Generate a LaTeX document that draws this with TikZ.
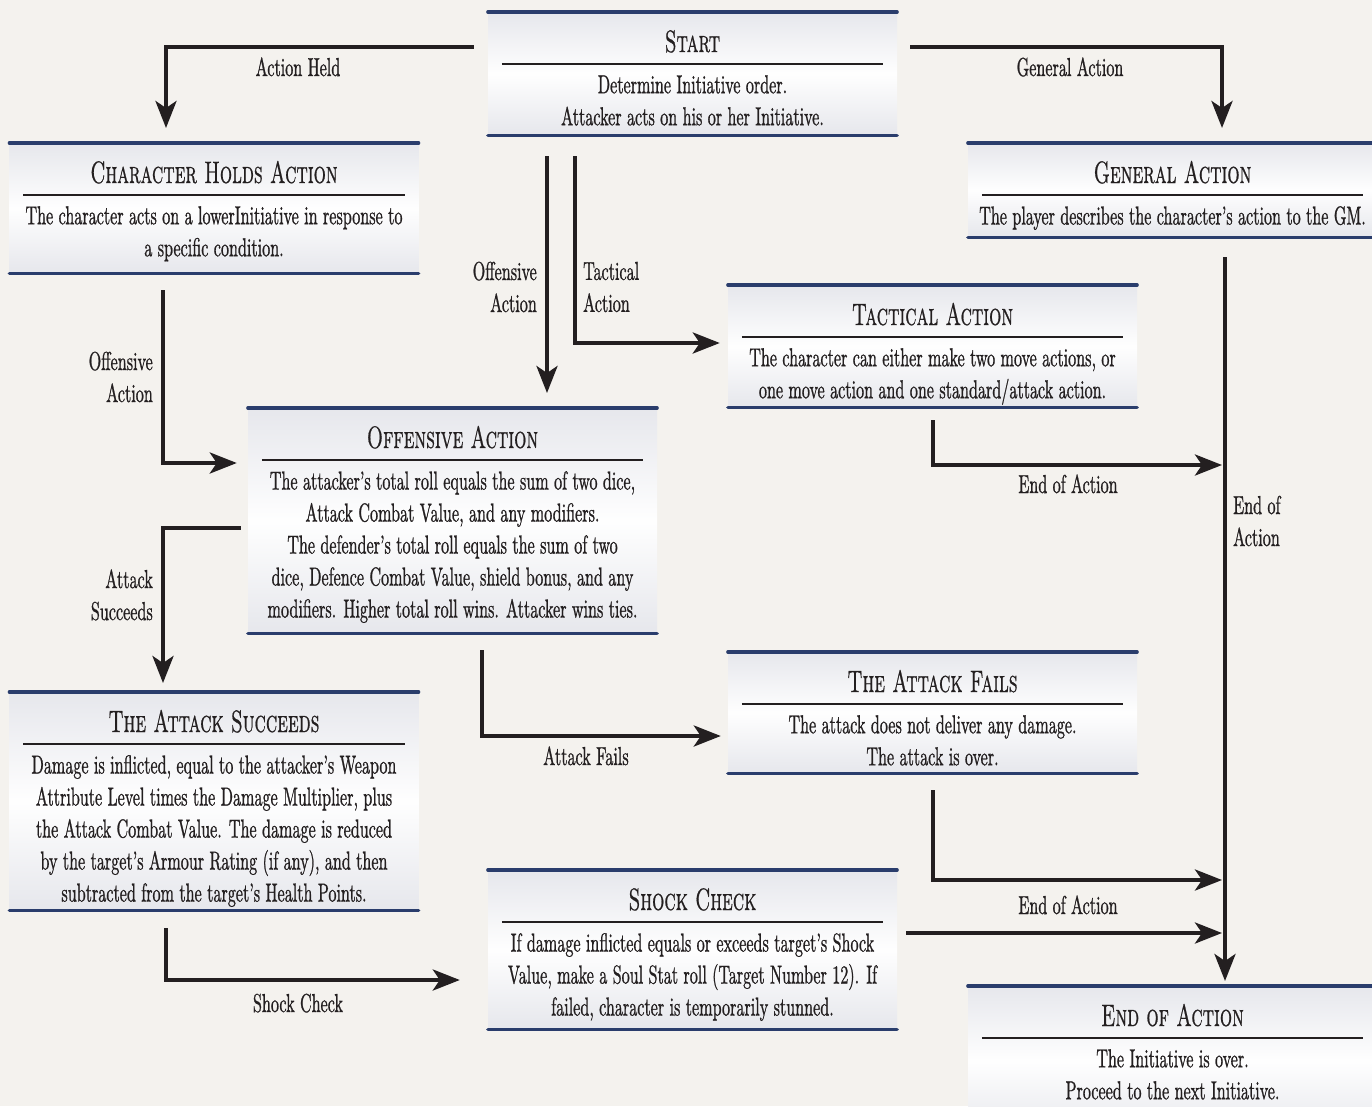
\documentclass[tikz,border=0pt]{standalone}
\usepackage{fontspec}
\setmainfont{lmroman10-regular.otf}[FakeStretch=0.62, FakeBold=0.8]
\newfontfamily\capsfont{lmromancaps10-regular.otf}[FakeStretch=0.62, FakeBold=0.6]
\usetikzlibrary{arrows.meta}

\definecolor{paper}{HTML}{F4F2EE}
\definecolor{navy}{HTML}{2A3D6C}
\definecolor{ink}{HTML}{231F20}
\definecolor{panelgray}{HTML}{E6E7EC}

\begin{document}
\begin{tikzpicture}[
  x=1pt, y=-1pt,
  every node/.style={font=\fontsize{26}{32}\selectfont, text=ink},
  navy line/.style={draw=navy, line width=3.2pt, line cap=round},
  panel/.style={anchor=north, inner sep=0, minimum width=409,
    top color=panelgray, bottom color=panelgray, middle color=white!97!panelgray,
    append after command={
      (\tikzlastnode.north west) edge[navy line] (\tikzlastnode.north east)
      (\tikzlastnode.south west) edge[navy line] (\tikzlastnode.south east)}},
  heading/.style={anchor=base, inner sep=0, font=\capsfont\fontsize{31}{31}\selectfont},
  rule/.style={draw=ink, line width=2.5pt},
  body/.style={align=center, anchor=north, inner sep=0},
  flow/.style={draw=ink, line width=4pt, -{Stealth[length=27pt, width=21pt, inset=7pt]}},
  tag/.style={align=center, inner sep=0}
]
\useasboundingbox (0,0) rectangle (1372,1106);
\fill[paper] (0,0) rectangle (1372,1106);

% Kaders
\node[panel, minimum height=123] (start) at (692.5,12) {};
\node[heading] (start-title) at ([shift={(0,40)}]start.north) {Start};
\draw[rule] ([shift={(14,52)}]start.north west) -- ([shift={(-14,52)}]start.north east);
\node[body] (start-text) at ([shift={(0,63)}]start.north)
  {Determine Initiative order.\\Attacker acts on his or her Initiative.};

\node[panel, minimum height=130] (hold) at (214,143) {};
\node[heading] (hold-title) at ([shift={(0,40)}]hold.north) {Character Holds Action};
\draw[rule] ([shift={(14,52)}]hold.north west) -- ([shift={(-14,52)}]hold.north east);
\node[body] (hold-text) at ([shift={(0,63)}]hold.north)
  {The character acts on a lowerInitiative in response to\\a specific condition.};

\node[panel, minimum height=94] (general) at (1172.5,143) {};
\node[heading] (general-title) at ([shift={(0,40)}]general.north) {General Action};
\draw[rule] ([shift={(14,52)}]general.north west) -- ([shift={(-14,52)}]general.north east);
\node[body] (general-text) at ([shift={(0,63)}]general.north)
  {The player describes the character’s action to the GM.};

\node[panel, minimum height=122] (tactical) at (932.5,285) {};
\node[heading] (tactical-title) at ([shift={(0,40)}]tactical.north) {Tactical Action};
\draw[rule] ([shift={(14,52)}]tactical.north west) -- ([shift={(-14,52)}]tactical.north east);
\node[body] (tactical-text) at ([shift={(0,63)}]tactical.north)
  {The character can either make two move actions, or\\one move action and one standard/attack action.};

\node[panel, minimum height=225] (offense) at (452.5,408) {};
\node[heading] (offense-title) at ([shift={(0,40)}]offense.north) {Offensive Action};
\draw[rule] ([shift={(14,52)}]offense.north west) -- ([shift={(-14,52)}]offense.north east);
\node[body] (offense-text) at ([shift={(0,63)}]offense.north)
  {The attacker’s total roll equals the sum of two dice,\\Attack Combat Value, and any modifiers.\\The defender’s total roll equals the sum of two\\dice, Defence Combat Value, shield bonus, and any\\modifiers. Higher total roll wins. Attacker wins ties.};

\node[panel, minimum height=218] (succeed) at (214,692) {};
\node[heading] (succeed-title) at ([shift={(0,40)}]succeed.north) {The Attack Succeeds};
\draw[rule] ([shift={(14,52)}]succeed.north west) -- ([shift={(-14,52)}]succeed.north east);
\node[body] (succeed-text) at ([shift={(0,63)}]succeed.north)
  {Damage is inflicted, equal to the attacker’s Weapon\\Attribute Level times the Damage Multiplier, plus\\the Attack Combat Value. The damage is reduced\\by the target’s Armour Rating (if any), and then\\subtracted from the target’s Health Points.};

\node[panel, minimum height=121] (fails) at (932.5,652) {};
\node[heading] (fails-title) at ([shift={(0,40)}]fails.north) {The Attack Fails};
\draw[rule] ([shift={(14,52)}]fails.north west) -- ([shift={(-14,52)}]fails.north east);
\node[body] (fails-text) at ([shift={(0,63)}]fails.north)
  {The attack does not deliver any damage.\\The attack is over.};

\node[panel, minimum height=159] (shock) at (692.5,870) {};
\node[heading] (shock-title) at ([shift={(0,40)}]shock.north) {Shock Check};
\draw[rule] ([shift={(14,52)}]shock.north west) -- ([shift={(-14,52)}]shock.north east);
\node[body] (shock-text) at ([shift={(0,63)}]shock.north)
  {If damage inflicted equals or exceeds target’s Shock\\Value, make a Soul Stat roll (Target Number 12). If\\failed, character is temporarily stunned.};

\node[panel, minimum height=150] (endact) at (1172.5,986) {};
\node[heading] (endact-title) at ([shift={(0,40)}]endact.north) {End of Action};
\draw[rule] ([shift={(14,52)}]endact.north west) -- ([shift={(-14,52)}]endact.north east);
\node[body] (endact-text) at ([shift={(0,63)}]endact.north)
  {The Initiative is over.\\Proceed to the next Initiative.};

% Pijlen
\coordinate (trunk) at (1225,600);
\draw[flow, shorten <=14pt, shorten >=15pt] (start.west |- 0,47) -| (166,0 |- hold.north);
\draw[flow, shorten <=13pt, shorten >=15pt] (start.east |- 0,47) -| (1222,0 |- general.north);
\draw[flow, shorten <=21pt, shorten >=15pt] (547,0 |- start.south) -- (547,0 |- offense.north);
\draw[flow, shorten <=21pt, shorten >=8pt] (575,0 |- start.south) |- (tactical.west |- 0,343);
\draw[flow, shorten <=17pt, shorten >=11pt] (163,0 |- hold.south) |- (offense.west |- 0,463);
\draw[flow, shorten <=7pt, shorten >=9pt] (offense.west |- 0,528) -| (163,0 |- succeed.north);
\draw[flow, shorten <=17pt, shorten >=7pt] (482,0 |- offense.south) |- (fails.west |- 0,736);
\draw[flow, shorten <=13pt, shorten >=3pt] (933,0 |- tactical.south) |- (trunk |- 0,465);
\draw[flow, shorten <=20pt, shorten >=5pt] (trunk |- general.south) -- (trunk |- endact.north);
\draw[flow, shorten <=17pt, shorten >=3pt] (933,0 |- fails.south) |- (trunk |- 0,880);
\draw[flow, shorten <=9pt, shorten >=3pt] (shock.east |- 0,933) -- (trunk |- 0,933);
\draw[flow, shorten <=18pt, shorten >=28pt] (166,0 |- succeed.south) |- (shock.west |- 0,980);

% Labels
\node[tag, anchor=base] (held-lbl) at (298,76) {Action Held};
\node[tag, anchor=base] (general-lbl) at (1070,76) {General Action};
\node[tag, anchor=east, align=right] (offense-lbl) at (537,287) {Offensive\\Action};
\node[tag, anchor=west, align=left] (tactical-lbl) at (583,287) {Tactical\\Action};
\node[tag, anchor=east, align=right] (holdoff-lbl) at (153,377) {Offensive\\Action};
\node[tag, anchor=east, align=right] (succeed-lbl) at (153,595) {Attack\\Succeeds};
\node[tag, anchor=base] (fails-lbl) at (586,765) {Attack Fails};
\node[tag, anchor=base] (tacend-lbl) at (1068,493) {End of Action};
\node[tag, anchor=west, align=left] (trunk-lbl) at (1233,521) {End of\\Action};
\node[tag, anchor=base] (failend-lbl) at (1068,914) {End of Action};
\node[tag, anchor=base] (shock-lbl) at (298,1012) {Shock Check};

\end{tikzpicture}
\end{document}
